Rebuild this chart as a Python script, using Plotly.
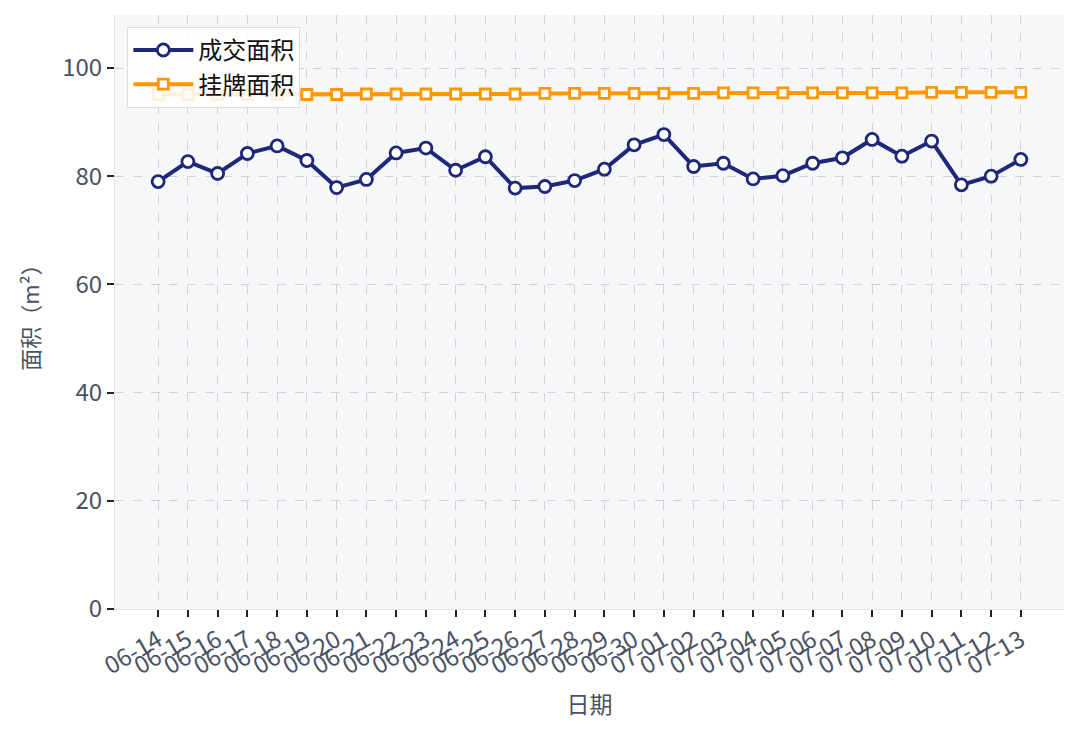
import plotly.graph_objects as go

dates = ["06-14", "06-15", "06-16", "06-17", "06-18", "06-19", "06-20", "06-21", "06-22", "06-23",
         "06-24", "06-25", "06-26", "06-27", "06-28", "06-29", "06-30", "07-01", "07-02", "07-03",
         "07-04", "07-05", "07-06", "07-07", "07-08", "07-09", "07-10", "07-11", "07-12", "07-13"]
deal_area = [79.0, 82.7, 80.5, 84.2, 85.6, 82.9, 77.9, 79.4, 84.3, 85.2,
             81.1, 83.6, 77.8, 78.1, 79.2, 81.3, 85.8, 87.7, 81.8, 82.4,
             79.5, 80.1, 82.4, 83.4, 86.8, 83.7, 86.5, 78.4, 80.0, 83.1]
listing_area = [95.1, 95.1, 95.1, 95.1, 95.1, 95.1, 95.1, 95.2, 95.2, 95.2,
                95.2, 95.2, 95.2, 95.3, 95.3, 95.3, 95.3, 95.3, 95.3, 95.4,
                95.4, 95.4, 95.4, 95.4, 95.4, 95.4, 95.5, 95.5, 95.5, 95.5]
y_ticks = [0, 20, 40, 60, 80, 100]

FONT = "Noto Sans CJK SC"
TXT = "#4a5263"

x_idx = list(range(len(dates)))

fig = go.Figure()
fig.add_trace(go.Scatter(
    x=x_idx, y=deal_area, name="成交面积", mode="lines+markers",
    line=dict(color="#1f2778", width=4),
    marker=dict(symbol="circle", size=12, color="white", line=dict(color="#1f2778", width=2.8)),
))
fig.add_trace(go.Scatter(
    x=x_idx, y=listing_area, name="挂牌面积", mode="lines+markers",
    line=dict(color="#ff9800", width=4),
    marker=dict(symbol="square", size=10, color="white", line=dict(color="#ff9800", width=2.8)),
))

grid = dict(showgrid=True, gridcolor="#d0d3d9", griddash="dash", gridwidth=1)

fig.update_layout(
    width=1072, height=728,
    margin=dict(l=107, r=16, t=7, b=127),
    paper_bgcolor="white",
    plot_bgcolor="#f6f7f9",
    font=dict(family=FONT, color=TXT, size=24),
    showlegend=True,
    legend=dict(
        x=0.013, y=0.98, xanchor="left", yanchor="top",
        bgcolor="rgba(255,255,255,0.85)", bordercolor="#dddddd", borderwidth=1,
        font=dict(family=FONT, size=24, color="#111111"),
        itemwidth=60, tracegroupgap=6,
    ),
    xaxis=dict(
        **grid,
        range=[-1.45, 30.45],
        tickmode="array", tickvals=x_idx, ticktext=dates,
        tickangle=-30, ticks="outside", ticklen=7, tickcolor="#222222", tickwidth=2,
        showline=True, linecolor="#e2e4e8", linewidth=1,
        zeroline=False,
        tickfont=dict(family=FONT, size=24, color=TXT),
        title=dict(text="日期", font=dict(family=FONT, size=23, color=TXT), standoff=16),
    ),
    yaxis=dict(
        **grid,
        range=[0, 109.8],
        tickmode="array", tickvals=y_ticks,
        ticks="outside", ticklen=7, tickcolor="#222222", tickwidth=2,
        showline=True, linecolor="#e2e4e8", linewidth=1,
        zeroline=False,
        tickfont=dict(family=FONT, size=24, color=TXT),
        title=dict(text="面积（m²）", font=dict(family=FONT, size=22, color=TXT), standoff=16),
    ),
)

fig.write_html("out.html")
